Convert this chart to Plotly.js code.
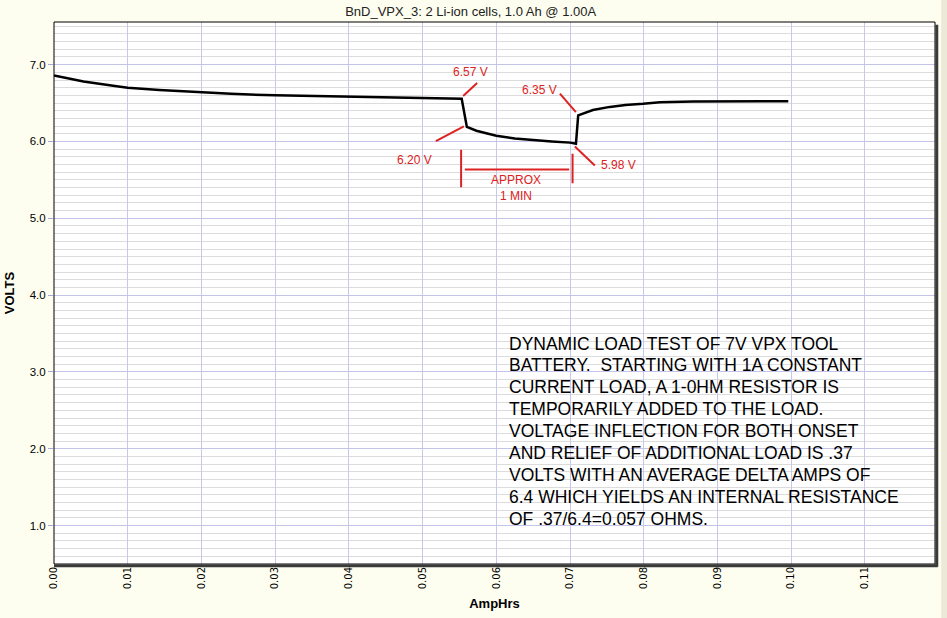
<!DOCTYPE html>
<html>
<head>
<meta charset="utf-8">
<script src="https://cdn.plot.ly/plotly-3.0.1.min.js"></script>
<style>html,body{margin:0;padding:0;background:#fefef0;}#chart{width:947px;height:618px;}</style>
</head>
<body>
<div id="chart"></div>
<script>
// ---- data ----
const ampHrs = [0, 0.004, 0.0085, 0.01, 0.0143, 0.02, 0.024, 0.03, 0.035, 0.04, 0.045, 0.05, 0.0539, 0.0553,
                0.0560, 0.0573, 0.0585, 0.06, 0.0625, 0.0646, 0.0675, 0.07, 0.0708,
                0.0711, 0.0731, 0.0754, 0.0775, 0.0799, 0.0822, 0.0867, 0.092, 0.0996];
const volts  = [6.86, 6.78, 6.72, 6.70, 6.67, 6.635, 6.62, 6.60, 6.592, 6.585, 6.578, 6.572, 6.56, 6.555,
                6.19, 6.14, 6.11, 6.075, 6.04, 6.02, 6.00, 5.985, 5.97,
                6.34, 6.41, 6.45, 6.475, 6.49, 6.51, 6.52, 6.525, 6.525];
const xTickVals = [0, 0.01, 0.02, 0.03, 0.04, 0.05, 0.06, 0.07, 0.08, 0.09, 0.10, 0.11];
const xTickText = ["0.00","0.01","0.02","0.03","0.04","0.05","0.06","0.07","0.08","0.09","0.10","0.11"];
const yTickVals = [1, 2, 3, 4, 5, 6, 7];
const yTickText = ["1.0","2.0","3.0","4.0","5.0","6.0","7.0"];
const pointLabels = ["6.57 V", "6.20 V", "6.35 V", "5.98 V"];
const noteLines = [
  "DYNAMIC LOAD TEST OF 7V VPX TOOL",
  "BATTERY.  STARTING WITH 1A CONSTANT",
  "CURRENT LOAD, A 1-0HM RESISTOR IS",
  "TEMPORARILY ADDED TO THE LOAD.",
  "VOLTAGE INFLECTION FOR BOTH ONSET",
  "AND RELIEF OF ADDITIONAL LOAD IS .37",
  "VOLTS WITH AN AVERAGE DELTA AMPS OF",
  "6.4 WHICH YIELDS AN INTERNAL RESISTANCE",
  "OF .37/6.4=0.057 OHMS."
];

const RED = '#dd2222';
const redFont = {family: 'Liberation Sans, Arial, sans-serif', size: 12, color: RED};

const annotations = [
  {x: 0.05647, y: 6.90, text: pointLabels[0]},
  {x: 0.04894, y: 5.765, text: pointLabels[1]},
  {x: 0.0659, y: 6.665, text: pointLabels[2]},
  {x: 0.07653, y: 5.70, text: pointLabels[3]},
  {x: 0.06265, y: 5.39, text: 'APPROX<br>1 MIN'}
].map(a => Object.assign({xref: 'x', yref: 'y', showarrow: false, font: redFont, xanchor: 'center', yanchor: 'middle'}, a));

noteLines.forEach((t, i) => {
  annotations.push({x: 0.0614, y: 3.370, xref: 'x', yref: 'y', xanchor: 'left', yanchor: 'middle',
    yshift: -21.95 * i, showarrow: false, text: t,
    font: {family: 'Liberation Sans, Arial, sans-serif', size: 17.5, color: '#000'}});
});

function seg(x0, y0, x1, y1) {
  return {type: 'line', xref: 'x', yref: 'y', x0: x0, y0: y0, x1: x1, y1: y1, line: {color: RED, width: 2}};
}
const shapes = [
  seg(0.05550, 6.591, 0.05739, 6.760),
  seg(0.05179, 6.004, 0.05559, 6.196),
  seg(0.06862, 6.622, 0.07079, 6.382),
  seg(0.07065, 5.935, 0.07336, 5.687),
  seg(0.05522, 5.892, 0.05522, 5.404),
  seg(0.07034, 5.840, 0.07034, 5.456),
  seg(0.05573, 5.635, 0.06988, 5.635),
  // frame
  {type: 'rect', xref: 'paper', yref: 'paper', x0: 0, y0: 0, x1: 1, y1: 1, line: {color: '#000', width: 1}},
  {type: 'line', xref: 'paper', yref: 'paper', x0: 0, y0: -0.003, x1: 1.003, y1: -0.003, line: {color: '#3a3a3a', width: 3}},
  {type: 'line', xref: 'paper', yref: 'paper', x0: 1.002, y0: -0.005, x1: 1.002, y1: 0.995, line: {color: '#3a3a3a', width: 3}},
  {type: 'rect', xref: 'paper', yref: 'paper', x0: 1.007, y0: -0.2, x1: 1.03, y1: 1.1, fillcolor: '#ece9d8', line: {width: 0}, layer: 'below'}
];

const trace = {
  x: ampHrs, y: volts, type: 'scatter', mode: 'lines',
  line: {color: '#000', width: 2.5}, hoverinfo: 'skip'
};

const layout = {
  width: 947, height: 618,
  margin: {l: 54, r: 12, t: 22, b: 54},
  paper_bgcolor: '#fefef0', plot_bgcolor: '#ffffff',
  showlegend: false,
  title: {text: 'BnD_VPX_3: 2 Li-ion cells, 1.0 Ah @ 1.00A', x: 0.497, xanchor: 'center', y: 0.981, yanchor: 'middle', yref: 'container',
          font: {family: 'Liberation Sans, Arial, sans-serif', size: 13, color: '#222'}},
  xaxis: {
    range: [0, 0.1195], tickvals: xTickVals, ticktext: xTickText, tickangle: -90,
    showgrid: true, gridcolor: '#c8c8ee', gridwidth: 1, zeroline: false,
    showline: false, ticks: '', 
    tickfont: {family: 'DejaVu Sans, sans-serif', size: 10, color: '#000'},
    title: {text: 'AmpHrs', standoff: 10, font: {family: 'Liberation Sans, Arial, sans-serif', size: 13, color: '#000', weight: 'bold'}}
  },
  yaxis: {
    range: [0.5, 7.555], tickvals: yTickVals, ticktext: yTickText,
    showgrid: true, gridcolor: '#c4c4e8', gridwidth: 1, zeroline: false,
    showline: false, ticks: 'outside', ticklen: 5, tickcolor: '#a8a8dc',
    tickfont: {family: 'Liberation Sans, Arial, sans-serif', size: 11.5, color: '#000'},
    minor: {dtick: 0.1, tick0: 0, showgrid: true, gridcolor: '#dcdcdc', gridwidth: 1},
    title: {text: 'VOLTS', standoff: 12, font: {family: 'Liberation Sans, Arial, sans-serif', size: 13, color: '#000', weight: 'bold'}}
  },
  annotations: annotations,
  shapes: shapes
};

Plotly.newPlot('chart', [trace], layout, {displayModeBar: false, staticPlot: true});
</script>
</body>
</html>
